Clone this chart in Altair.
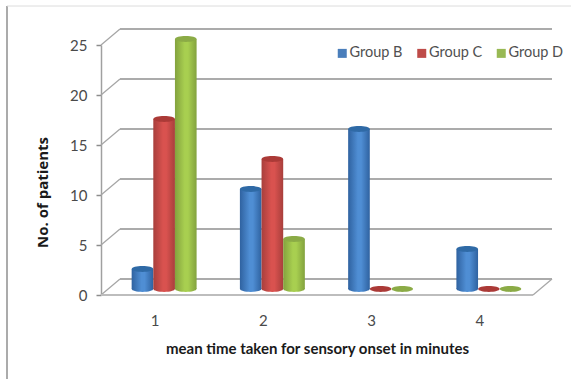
import altair as alt
import pandas as pd

# Patient counts per mean onset time, by study group
minutes = ["1", "2", "3", "4"]
groups = ["Group B", "Group C", "Group D"]
group_b = [2, 10, 16, 4]
group_c = [17, 13, 0, 0]
group_d = [25, 5, 0, 0]
y_ticks = [0, 5, 10, 15, 20, 25]

legend_colors = ["#4a7ebb", "#be4b48", "#98b954"]
top_colors = ["#2f6aa6", "#ab3a37", "#8bab46"]
side_edge = ["#2f62a0", "#a83f3c", "#83a23e"]
side_mid = ["#4f8ed4", "#d9524f", "#a8cf50"]

# Depth of the floor, expressed in y-axis units and pixels
DEPTH_UNITS = 1.6
DEPTH_PX = 16
BAR_DY = -6

rows = []
for g, series in zip(groups, [group_b, group_c, group_d]):
    for m, v in zip(minutes, series):
        rows.append({"minutes": m, "group": g, "patients": v})
bars = pd.DataFrame(rows)
ticks = pd.DataFrame({"v": y_ticks, "v_back": [t + DEPTH_UNITS for t in y_ticks]})

# Bars stand at mid depth, so the band scale sits right of the tick labels
x_scale = alt.Scale(domain=minutes, range=[7, 440], paddingInner=0.4, paddingOuter=0.2)
y_scale = alt.Scale(domain=[0, 25], nice=False)
offset = alt.XOffset("group:N", scale=alt.Scale(domain=groups))
ellipse = "M-1,0A1,0.27 0 1 1 1,0A1,0.27 0 1 1 -1,0Z"

x_axis = alt.Axis(
    title="mean time taken for sensory onset in minutes",
    titleFont="Lato", titleFontSize=15, titleFontWeight="bold", titleColor="#1a1a1a",
    titlePadding=13, titleX=214,
    labelFont="Lato", labelFontSize=15, labelColor="#4a4a4a", labelAngle=0,
    labelPadding=18, labelOffset=-9, domain=False, ticks=False, grid=False,
)
y_axis = alt.Axis(
    values=y_ticks,
    title="No. of patients",
    titleFont="Open Sans", titleFontSize=15, titleFontWeight="bold", titleColor="#1a1a1a",
    titlePadding=19, titleY=147,
    labelFont="Lato", labelFontSize=15, labelColor="#4a4a4a",
    labelPadding=9, tickSize=5, tickColor="#8c8c8c", tickWidth=1.5,
    domainColor="#a0a0a0", domainWidth=1.5, offset=2, grid=False,
)
x_pos = alt.X("minutes:O", scale=x_scale, sort=minutes, axis=x_axis)


def y_pos(field):
    return alt.Y(field, scale=y_scale, axis=y_axis)


# Back wall: gridlines and the slanted links to the front axis
back_grid = alt.Chart(ticks).mark_rule(color="#ababab", strokeWidth=2, yOffset=-DEPTH_PX).encode(
    y=y_pos("v:Q"), x=alt.value(17), x2=alt.value(449)
)
links = alt.Chart(ticks).mark_rule(color="#a6a6a6", strokeWidth=1.3).encode(
    y=y_pos("v:Q"), y2="v_back:Q", x=alt.value(-2), x2=alt.value(17)
)

# Floor edges
floor_front = alt.Chart(ticks[ticks.v == 0]).mark_rule(color="#bdbdbd", strokeWidth=2.2).encode(
    y=y_pos("v:Q"), x=alt.value(-2), x2=alt.value(430)
)
floor_right = alt.Chart(ticks[ticks.v == 0]).mark_rule(color="#a8a8a8", strokeWidth=1.3).encode(
    y=y_pos("v:Q"), y2="v_back:Q", x=alt.value(430), x2=alt.value(449)
)

# Outer frame of the figure
frame_data = pd.DataFrame({"v": [0]})
frame_left = alt.Chart(frame_data).mark_rule(color="#8f8f8f", strokeWidth=1.5).encode(
    x=alt.value(-96), y=alt.value(-39), y2=alt.value(334)
)
frame_top = alt.Chart(frame_data).mark_rule(color="#dcdcdc", strokeWidth=1).encode(
    x=alt.value(-96), x2=alt.value(468), y=alt.value(-39)
)


def gradient(i):
    return alt.Gradient(
        gradient="linear", x1=0, x2=1, y1=0, y2=0,
        stops=[
            alt.GradientStop(color=side_edge[i], offset=0),
            alt.GradientStop(color=side_mid[i], offset=0.45),
            alt.GradientStop(color=side_mid[i], offset=0.6),
            alt.GradientStop(color=side_edge[i], offset=1),
        ],
    )


# Cylinders: rounded base, gradient body, elliptical cap
cylinders = []
for i, g in enumerate(groups):
    d = bars[bars.group == g]
    solid = d[d.patients > 0]
    base = alt.Chart(solid.assign(zero=0)).mark_point(
        shape=ellipse, size=460, filled=True, opacity=1, yOffset=BAR_DY,
        fill=gradient(i), strokeWidth=0,
    ).encode(x=x_pos, xOffset=offset, y=y_pos("zero:Q"))
    body = alt.Chart(solid).mark_bar(
        fill=gradient(i), yOffset=BAR_DY, y2Offset=BAR_DY
    ).encode(x=x_pos, xOffset=offset, y=y_pos("patients:Q"), y2=alt.datum(0))
    cap = alt.Chart(d).mark_point(
        shape=ellipse, size=460, filled=True, opacity=1, color=top_colors[i], yOffset=BAR_DY,
    ).encode(x=x_pos, xOffset=offset, y=y_pos("patients:Q"))
    cylinders += [base, body, cap]

# Legend swatches come from an otherwise invisible layer
legend_layer = alt.Chart(bars).mark_point(filled=True, size=0, opacity=0).encode(
    x=x_pos,
    y=y_pos("patients:Q"),
    color=alt.Color(
        "group:N",
        scale=alt.Scale(domain=groups, range=legend_colors),
        legend=alt.Legend(
            orient="none", legendX=232, legendY=1, direction="horizontal", title=None,
            symbolType="square", symbolSize=81, symbolOpacity=1, symbolStrokeWidth=0,
            labelFont="Lato", labelFontSize=14.5, labelColor="#505050",
            columnPadding=11.5, labelOffset=0,
        ),
    ),
)

chart = alt.layer(
    frame_left, frame_top, back_grid, links, floor_front, floor_right, *cylinders, legend_layer
).properties(
    width=430,
    height=250,
    background="white",
    padding={"left": 103, "top": 45, "right": 38, "bottom": 84},
    autosize=alt.AutoSizeParams(type="none"),
).configure_view(stroke=None)

chart.save("out.html", embed_options={"renderer": "svg", "actions": False})
